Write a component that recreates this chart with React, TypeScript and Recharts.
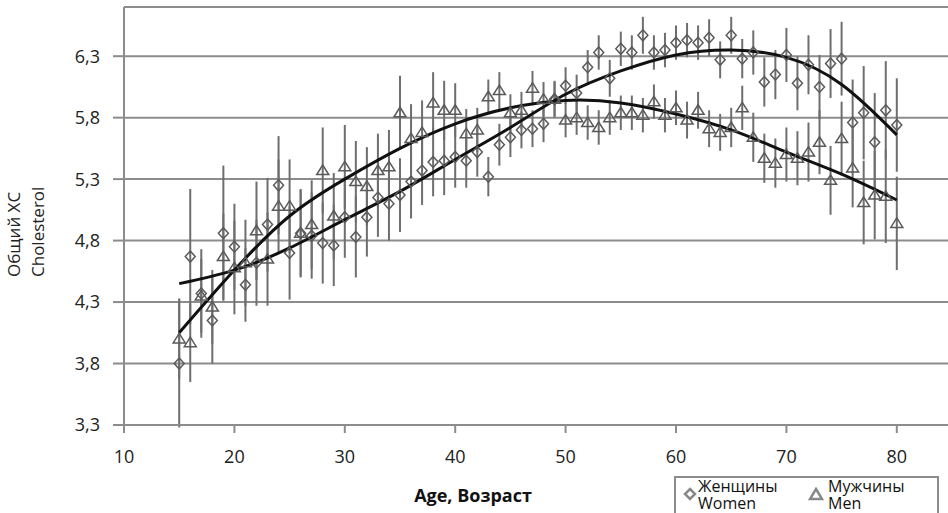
import React from "react";
import {
  ComposedChart,
  Scatter,
  Line,
  XAxis,
  YAxis,
  CartesianGrid,
  ErrorBar,
  ReferenceLine,
} from "recharts";

// ages, one point per year
const ages = [
  15, 16, 17, 18, 19, 20, 21, 22, 23, 24, 25, 26, 27, 28, 29, 30, 31, 32, 33, 34, 35, 36,
  37, 38, 39, 40, 41, 42, 43, 44, 45, 46, 47, 48, 49, 50, 51, 52, 53, 54, 55, 56, 57, 58,
  59, 60, 61, 62, 63, 64, 65, 66, 67, 68, 69, 70, 71, 72, 73, 74, 75, 76, 77, 78, 79, 80,
];

const womenMean = [
  3.8, 4.67, 4.37, 4.15, 4.86, 4.75, 4.44, 4.62, 4.93, 5.25, 4.7, 4.86, 4.84, 4.78, 4.76, 4.99,
  4.83, 4.99, 5.15, 5.1, 5.17, 5.28, 5.37, 5.44, 5.45, 5.48, 5.45, 5.52, 5.32, 5.58, 5.64, 5.7,
  5.71, 5.75, 5.95, 6.06, 6.0, 6.21, 6.33, 6.12, 6.36, 6.33, 6.47, 6.33, 6.35, 6.41, 6.43, 6.41,
  6.45, 6.27, 6.47, 6.28, 6.33, 6.09, 6.15, 6.31, 6.08, 6.23, 6.05, 6.24, 6.28, 5.76, 5.84, 5.6,
  5.86, 5.74,
];
const womenErr = [
  0.52, 0.55, 0.36, 0.35, 0.55, 0.35, 0.3, 0.35, 0.38, 0.4, 0.38, 0.35, 0.35, 0.33, 0.33, 0.33,
  0.33, 0.32, 0.32, 0.3, 0.3, 0.3, 0.28, 0.28, 0.28, 0.25, 0.22, 0.2, 0.16, 0.17, 0.16, 0.15,
  0.15, 0.15, 0.15, 0.15, 0.15, 0.14, 0.14, 0.15, 0.14, 0.14, 0.15, 0.14, 0.14, 0.14, 0.14, 0.14,
  0.15, 0.15, 0.15, 0.16, 0.18, 0.2, 0.2, 0.22, 0.22, 0.24, 0.26, 0.28, 0.3, 0.35, 0.38, 0.4,
  0.4, 0.38,
];

const menMean = [
  4.0, 3.97, 4.35, 4.26, 4.67, 4.58, 4.62, 4.88, 4.65, 5.08, 5.08, 4.86, 4.93, 5.37, 5.0, 5.4,
  5.28, 5.24, 5.37, 5.4, 5.84, 5.63, 5.68, 5.92, 5.86, 5.86, 5.67, 5.7, 5.97, 6.02, 5.84, 5.86,
  6.04, 5.95, 5.95, 5.78, 5.8, 5.76, 5.72, 5.8, 5.84, 5.84, 5.82, 5.93, 5.82, 5.88, 5.78, 5.86,
  5.71, 5.68, 5.72, 5.88, 5.64, 5.47, 5.43, 5.5, 5.47, 5.52, 5.6, 5.29, 5.63, 5.39, 5.11, 5.17,
  5.16, 4.94,
];
const menErr = [
  0.33, 0.32, 0.3, 0.3, 0.35, 0.38, 0.35, 0.4, 0.38, 0.38, 0.38, 0.36, 0.36, 0.35, 0.35, 0.34,
  0.33, 0.32, 0.3, 0.3, 0.3, 0.28, 0.26, 0.25, 0.24, 0.22, 0.2, 0.18, 0.14, 0.15, 0.15, 0.15,
  0.14, 0.14, 0.14, 0.14, 0.14, 0.14, 0.14, 0.14, 0.14, 0.14, 0.14, 0.14, 0.14, 0.14, 0.15, 0.15,
  0.15, 0.15, 0.16, 0.18, 0.2, 0.2, 0.2, 0.22, 0.22, 0.24, 0.26, 0.28, 0.3, 0.32, 0.34, 0.36,
  0.38, 0.38,
];

// trend curves, read every 5 years
const fitAges = [15, 20, 25, 30, 35, 40, 45, 50, 55, 60, 65, 70, 75, 80];
const fitWomen = [4.45, 4.56, 4.74, 4.97, 5.2, 5.46, 5.72, 5.99, 6.18, 6.31, 6.35, 6.29, 6.07, 5.66];
const fitMen = [4.05, 4.56, 5.0, 5.3, 5.55, 5.75, 5.88, 5.94, 5.92, 5.83, 5.7, 5.52, 5.34, 5.13];

const yTicks = [3.3, 3.8, 4.3, 4.8, 5.3, 5.8, 6.3];
const xTicks = [10, 20, 30, 40, 50, 60, 70, 80];

const women = ages.map((age, i) => ({ age, v: womenMean[i], err: womenErr[i] }));
const men = ages.map((age, i) => ({ age, v: menMean[i], err: menErr[i] }));
const womenFit = fitAges.map((age, i) => ({ age, v: fitWomen[i] }));
const menFit = fitAges.map((age, i) => ({ age, v: fitMen[i] }));

const FONT = "'Open Sans', sans-serif";
const GRID = "#8c8c8c";
const MARK = "#5a5a5a";

const Diamond = (props: any) => {
  const { cx, cy } = props;
  if (cx == null || cy == null) return null;
  return (
    <polygon
      points={`${cx},${cy - 5.5} ${cx + 5},${cy} ${cx},${cy + 5.5} ${cx - 5},${cy}`}
      fill="none"
      stroke={MARK}
      strokeWidth={1.5}
    />
  );
};

const Triangle = (props: any) => {
  const { cx, cy } = props;
  if (cx == null || cy == null) return null;
  return (
    <polygon
      points={`${cx},${cy - 5.5} ${cx + 6},${cy + 4} ${cx - 6},${cy + 4}`}
      fill="none"
      stroke={MARK}
      strokeWidth={1.5}
    />
  );
};

export default function App() {
  return (
    <div
      style={{
        position: "absolute",
        left: 0,
        top: 0,
        width: 948,
        height: 513,
        overflow: "hidden",
        background: "#fff",
        fontFamily: FONT,
      }}
    >
      <ComposedChart
        width={960}
        height={513}
        margin={{ top: 7, right: 8, left: 0, bottom: 0 }}
      >
        <CartesianGrid vertical={false} stroke={GRID} strokeWidth={2} />
        <XAxis
          type="number"
          dataKey="age"
          domain={[10, 85]}
          ticks={xTicks}
          height={88}
          tickSize={8}
          tickMargin={17}
          tick={{ fontSize: 18, fill: "#222", fontFamily: FONT }}
          axisLine={{ stroke: GRID, strokeWidth: 2 }}
          tickLine={{ stroke: GRID, strokeWidth: 2 }}
          allowDataOverflow
        />
        <YAxis
          type="number"
          dataKey="v"
          domain={[3.3, 6.7]}
          ticks={yTicks}
          width={124}
          tickSize={11}
          tickMargin={13}
          tick={{ fontSize: 18, fill: "#222", fontFamily: FONT }}
          tickFormatter={(v: number) => v.toFixed(1).replace(".", ",")}
          axisLine={{ stroke: GRID, strokeWidth: 2 }}
          tickLine={{ stroke: GRID, strokeWidth: 2 }}
          allowDataOverflow
        />
        <ReferenceLine y={6.7} stroke={GRID} strokeWidth={2} />
        <Scatter data={women} dataKey="v" shape={<Diamond />} isAnimationActive={false}>
          <ErrorBar dataKey="err" direction="y" width={0} stroke="#6e6e6e" strokeWidth={2} />
        </Scatter>
        <Scatter data={men} dataKey="v" shape={<Triangle />} isAnimationActive={false}>
          <ErrorBar dataKey="err" direction="y" width={0} stroke="#6e6e6e" strokeWidth={2} />
        </Scatter>
        <Line
          data={womenFit}
          dataKey="v"
          type="natural"
          stroke="#111"
          strokeWidth={3}
          dot={false}
          isAnimationActive={false}
        />
        <Line
          data={menFit}
          dataKey="v"
          type="natural"
          stroke="#111"
          strokeWidth={3}
          dot={false}
          isAnimationActive={false}
        />
      </ComposedChart>

      {/* axis titles */}
      <div
        style={{
          position: "absolute",
          left: 473,
          top: 483,
          transform: "translateX(-50%)",
          fontSize: 18,
          fontWeight: 700,
          color: "#111",
          whiteSpace: "nowrap",
        }}
      >
        Age, Возраст
      </div>
      <div
        style={{
          position: "absolute",
          left: 2,
          top: 277,
          transformOrigin: "0 0",
          transform: "rotate(-90deg)",
          fontSize: 17,
          lineHeight: "24px",
          color: "#222",
          whiteSpace: "nowrap",
        }}
      >
        <div>Общий ХС</div>
        <div>Cholesterol</div>
      </div>

      {/* legend */}
      <div
        style={{
          position: "absolute",
          left: 674,
          top: 476,
          width: 261,
          height: 50,
          border: "2px solid #8c8c8c",
          background: "#fff",
          fontSize: 16,
          lineHeight: "17px",
          color: "#111",
        }}
      >
        <svg width={14} height={14} style={{ position: "absolute", left: 7, top: 9 }}>
          <polygon points="7,2 12,7 7,12 2,7" fill="none" stroke="#888" strokeWidth={2.5} />
        </svg>
        <div style={{ position: "absolute", left: 22, top: 0 }}>
          <div>Женщины</div>
          <div>Women</div>
        </div>
        <svg width={16} height={14} style={{ position: "absolute", left: 132, top: 9 }}>
          <polygon points="8,2 14,12 2,12" fill="none" stroke="#888" strokeWidth={2.5} />
        </svg>
        <div style={{ position: "absolute", left: 152, top: 0 }}>
          <div>Мужчины</div>
          <div>Men</div>
        </div>
      </div>
    </div>
  );
}
